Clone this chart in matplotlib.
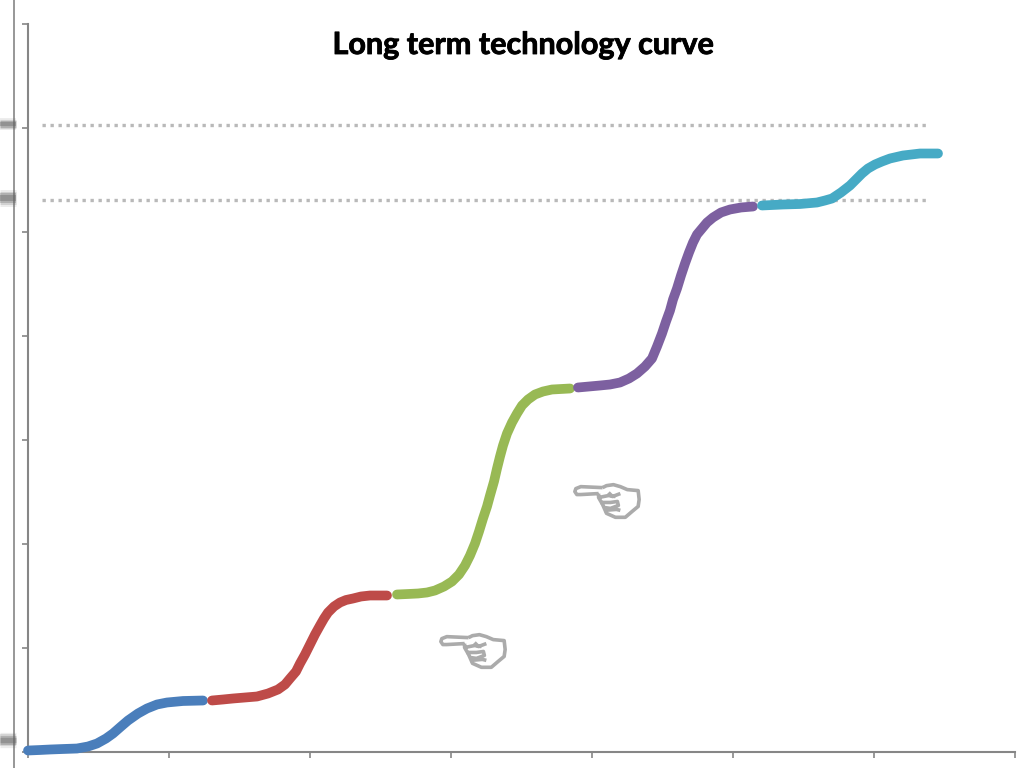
import matplotlib
matplotlib.use('Agg')
import matplotlib.pyplot as plt
import matplotlib.patheffects as pe
from matplotlib.path import Path

# S-curve segments, one list pair per technology generation
blue_x = [0, 12, 22, 35, 49, 60, 69, 78, 85, 93, 100, 110, 119, 129, 139, 155, 175]
blue_y = [1, 1.5, 2, 2.5, 3, 5, 8, 13, 18, 25, 31, 38, 43, 47, 49, 50.5, 51]
red_x = [184, 195, 205, 217, 229, 240, 250, 257, 262, 268, 272, 277, 282, 287, 292, 296, 300, 306, 312, 318, 325, 333, 342, 359]
red_y = [51, 52, 53, 54, 55, 58, 62, 67, 73, 80, 88, 97, 107, 117, 126, 133, 139, 145, 149, 151.5, 153, 155, 156, 156]
green_x = [369, 380, 390, 399, 407, 416, 424, 431, 437, 442, 447, 451, 455, 459, 462, 466, 469, 472, 475, 479, 484, 489, 494, 500, 507, 515, 524, 542]
green_y = [157, 157.5, 158, 159, 161, 165, 170, 177, 186, 196, 208, 220, 233, 245, 256, 270, 283, 295, 306, 318, 329, 338, 346, 352, 357, 360, 362, 363]
purple_x = [550, 561, 572, 582, 592, 601, 609, 617, 624, 629, 634, 638, 642, 645, 649, 653, 657, 661, 665, 669, 674, 679, 685, 693, 702, 713, 725]
purple_y = [364, 365, 366, 367, 369, 373, 378, 385, 393, 405, 418, 430, 441, 452, 463, 476, 488, 499, 509, 517, 523, 529, 534, 539, 542, 544, 545]
cyan_x = [734, 755, 772, 789, 797, 804, 813, 822, 828, 834, 840, 847, 854, 862, 875, 892, 910]
cyan_y = [546, 547, 547.5, 549, 551, 553, 559, 566, 572, 578, 583, 587, 590, 593, 596, 598, 598]

# dotted reference levels
levels = [627, 552]
level_x = [14, 899]

# hands pointing at the curve
hand_x = [445, 579]
hand_y = [103, 253]


def hand_marker():
    # outline of a left-pointing hand, strokes listed in drawing order
    strokes = [
        [(42, 18), (20, 17), (15, 19), (14, 22), (16, 25), (20, 25), (38, 24)],
        [(42, 18), (46, 16), (53, 15), (60, 17), (67, 20), (78, 21), (79, 30), (78, 37), (72, 42),
         (65, 48), (55, 48), (46, 44), (42, 35), (38, 28), (38, 24)],
        [(38, 28), (48, 26), (55, 27)],
        [(40, 33), (50, 33), (57, 32), (58, 36), (50, 39), (43, 38)],
        [(44, 41), (56, 40), (60, 41)],
        [(48, 23), (52, 27), (60, 24)],
    ]
    verts, codes = [], []
    for s in strokes:
        for i, (a, b) in enumerate(s):
            verts.append((a - 47, 30 - b))
            codes.append(Path.MOVETO if i == 0 else Path.LINETO)
    return Path(verts, codes)


W, H = 1036, 768
fig = plt.figure(figsize=(W / 100, H / 100), dpi=100)
ax = fig.add_axes([28 / W, (H - 751.5) / H, 987 / W, 728 / H])
ax.set_xlim(0, 987)
ax.set_ylim(0, 728)
ax.set_xticks(range(0, 988, 141))
ax.set_yticks(range(0, 729, 104))
ax.tick_params(labelbottom=False, labelleft=False, length=4.5, width=1.2, color='#868686')
for side in ['top', 'right']:
    ax.spines[side].set_visible(False)
for side in ['left', 'bottom']:
    ax.spines[side].set_color('#868686')
    ax.spines[side].set_linewidth(1.5)

for y in levels:
    ax.plot(level_x, [y, y], color='#b9b9b9', lw=2.4, dashes=(1, 1.4), dash_capstyle='butt', zorder=1)

segments = [
    (blue_x, blue_y, '#4a7ebb'),
    (red_x, red_y, '#be4b48'),
    (green_x, green_y, '#98b954'),
    (purple_x, purple_y, '#7d60a0'),
    (cyan_x, cyan_y, '#46aac5'),
]
for xs, ys, c in segments:
    ax.plot(xs, ys, color=c, lw=7, solid_capstyle='round', solid_joinstyle='round', clip_on=False, zorder=3)

ax.plot(hand_x, hand_y, ls='none', marker=hand_marker(), markersize=47, mfc='none', mec='#ababab', mew=2.6, zorder=2)

title = fig.text(523 / W, 1 - 45 / H, 'Long term technology curve', family='Lato', fontweight='bold',
                 fontsize=22, color='black', ha='center', va='center')
title.set_path_effects([pe.withStroke(linewidth=0.6, foreground='black')])

# second rule and smudged marks on the far left
fig.add_artist(plt.Line2D([14 / W, 14 / W], [0, 1], color='#8f8f8f', lw=1.3))
for yp, h in [(124, 7), (198, 10), (740, 9)]:
    for k, a in [(1.7, 0.12), (1.3, 0.2), (1.0, 0.3), (0.6, 0.4)]:
        fig.add_artist(plt.Line2D([0, 16 / W], [1 - yp / H, 1 - yp / H], color='#666666', lw=h * k * 0.72,
                                  alpha=a, solid_capstyle='butt'))

fig.savefig('out.png', dpi=100)
